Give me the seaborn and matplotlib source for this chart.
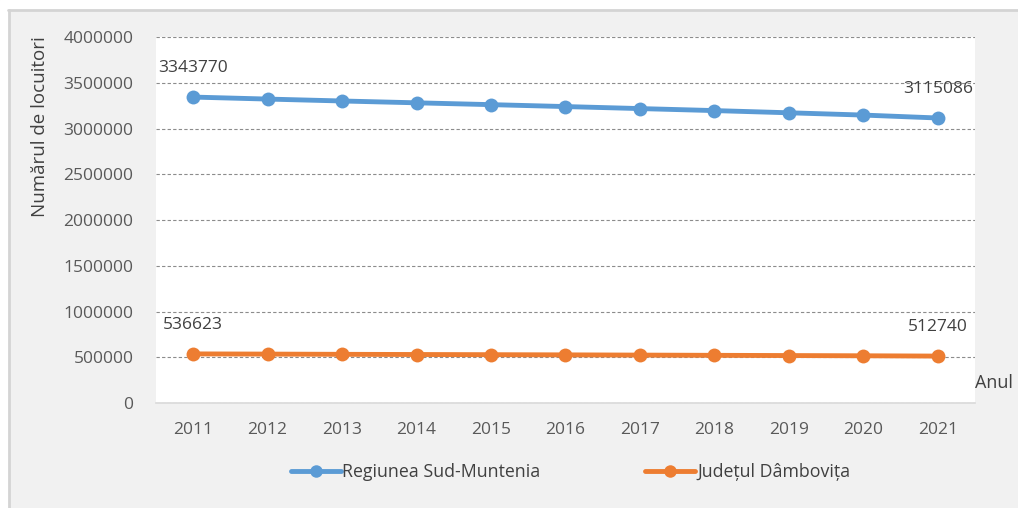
import pandas as pd
import numpy as np
import matplotlib.pyplot as plt
import matplotlib.ticker as mticker
import seaborn as sns

# data
ani = [2011, 2012, 2013, 2014, 2015, 2016, 2017, 2018, 2019, 2020, 2021]
sud_muntenia = [3343770, 3322000, 3301000, 3281000, 3261000, 3240000, 3218000, 3196000, 3172000, 3147000, 3115086]
dambovita = [536623, 534500, 532000, 530000, 528000, 526000, 523500, 521000, 518500, 516000, 512740]
serii = ["Regiunea Sud-Muntenia", "Județul Dâmbovița"]
culori = ["#5B9BD5", "#ED7D31"]

df = pd.DataFrame({
    "An": ani * 2,
    "Locuitori": sud_muntenia + dambovita,
    "Serie": [serii[0]] * len(ani) + [serii[1]] * len(ani),
})

sns.set_theme(style="white")
plt.rcParams['font.family'] = ['Open Sans', 'DejaVu Sans']

fig = plt.figure(figsize=(10.18, 5.08), dpi=100, facecolor="#f1f1f1")
# thin frame lines on top/left like the original screenshot
fig.patches.append(plt.Rectangle((0, 0.982), 1, 0.018, transform=fig.transFigure, color="white", zorder=0))
fig.patches.append(plt.Rectangle((0, 0), 0.008, 1, transform=fig.transFigure, color="white", zorder=0))
fig.lines.append(plt.Line2D([0.008, 1], [0.980, 0.980], transform=fig.transFigure, color="#d4d4d4", lw=2))
fig.lines.append(plt.Line2D([0.009, 0.009], [0, 0.980], transform=fig.transFigure, color="#d4d4d4", lw=2))

ax = fig.add_axes([0.153, 0.2067, 0.805, 0.7204])
ax.set_facecolor("white")

sns.lineplot(data=df, x="An", y="Locuitori", hue="Serie", palette=culori,
             marker="o", markersize=10, markeredgewidth=0, linewidth=3.5,
             ax=ax, legend=False)

ax.set_xlim(2010.5, 2021.5)
ax.set_ylim(0, 4000000)
ax.set_xticks(ani)
ax.set_yticks(np.arange(0, 4000001, 500000))
ax.yaxis.set_major_formatter(mticker.FuncFormatter(lambda v, p: f"{int(v)}"))
ax.yaxis.grid(True, linestyle=(0, (3, 2)), color="#8c8c8c", linewidth=0.8)
ax.set_axisbelow(True)
for s in ["top", "right", "left"]:
    ax.spines[s].set_visible(False)
ax.spines["bottom"].set_color("#d9d9d9")
ax.spines["bottom"].set_linewidth(1.2)
ax.tick_params(axis="both", length=0, labelsize=12.5, labelcolor="#595959")
ax.tick_params(axis="x", pad=14)
ax.tick_params(axis="y", pad=16)
ax.set_xlabel("")
ax.set_ylabel("")

# value labels on first and last points
for vals in [sud_muntenia, dambovita]:
    for i in [0, -1]:
        ax.annotate(str(vals[i]), (ani[i], vals[i]), xytext=(0, 21), textcoords="offset points",
                    ha="center", va="center", fontsize=12.5, color="#404040")

fig.text(40 / 1018, 1 - 127 / 508, "Numărul de locuitori", rotation=90, ha="center", va="center",
         fontsize=13.5, color="#404040")
fig.text(975 / 1018, 1 - 383 / 508, "Anul", ha="left", va="center", fontsize=13, color="#404040")

handles = [plt.Line2D([], [], color=c, marker="o", markersize=9, markeredgewidth=0, linewidth=3.5) for c in culori]
fig.legend(handles, serii, loc="center", bbox_to_anchor=(0.5604, 0.071), ncol=2, frameon=False,
           fontsize=12.8, handlelength=2.8, handletextpad=0.1, columnspacing=5.9,
           labelcolor="#404040")

fig.savefig("out.png", dpi=100, facecolor=fig.get_facecolor())
